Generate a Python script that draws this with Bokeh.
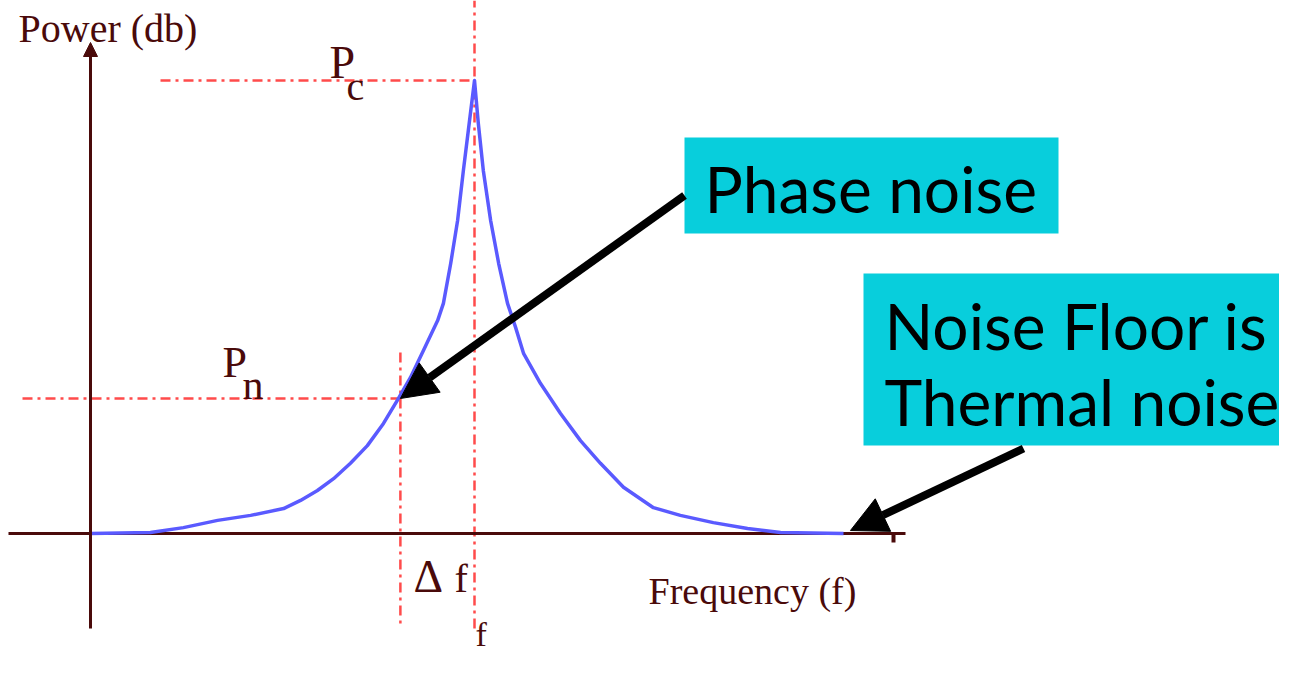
from bokeh.plotting import figure
from bokeh.models import Range1d, Label, Arrow, NormalHead, BoxAnnotation
from bokeh.embed import file_html
from bokeh.resources import INLINE

# ---- data (frequency units: carrier at 10; power units: floor 0, carrier 100) ----
freq = [0.0, 1.56, 2.42, 3.31, 4.17, 5.03, 5.47, 5.91, 6.33, 6.77, 7.21, 7.63, 7.99, 8.33, 8.67,
        9.04, 9.19, 9.38, 9.56, 9.71, 9.84, 10.0,
        10.10, 10.23, 10.42, 10.63, 10.86, 11.07, 11.28, 11.72, 12.24, 12.76, 13.28, 13.88,
        14.66, 15.36, 16.22, 17.11, 17.97, 19.61]
power = [0.0, 0.2, 1.3, 2.9, 4.0, 5.5, 7.3, 9.5, 12.1, 15.5, 19.4, 24.3, 29.4, 34.4, 40.4,
         47.0, 50.8, 59.6, 69.1, 80.1, 89.0, 100.0,
         90.5, 80.1, 69.1, 59.6, 50.8, 45.5, 39.7, 33.1, 26.5, 20.5, 15.5, 10.2,
         5.7, 4.0, 2.4, 1.1, 0.2, 0.0]
carrier_freq = 10.0
carrier_power = 100.0
offset_freq = 8.07
offset_power = 29.8
floor_end_freq = 19.79
floor_end_power = 0.66

# ---- geometry helpers (reference px -> data) ----
PX_X0, PX_PER_X = 90.0, 38.4
PX_Y0, PX_PER_Y = 533.0, 4.53
def X(px):
    return (px - PX_X0) / PX_PER_X
def Y(py):
    return (PX_Y0 - py) / PX_PER_Y

W, H = 1279, 658
p = figure(width=W, height=H, output_backend="svg", toolbar_location=None,
           x_range=Range1d(X(0), X(W)), y_range=Range1d(Y(H), Y(0)),
           min_border=0, min_border_left=0, min_border_right=0,
           min_border_top=0, min_border_bottom=0)
p.axis.visible = False
p.grid.visible = False
p.outline_line_color = None
p.background_fill_color = "white"
p.border_fill_color = "white"

AX = "#4a0a0a"
RED = "#ff4b4b"
BLUE = "#5a5aff"
CYAN = "#08cedc"

# red dash-dot guide lines
dash = "10 5 3 5"
p.segment(x0=[carrier_freq], y0=[Y(628)], x1=[carrier_freq], y1=[Y(0)],
          line_color=RED, line_width=2.5, line_dash=dash)
p.segment(x0=[X(160)], y0=[carrier_power], x1=[carrier_freq], y1=[carrier_power],
          line_color=RED, line_width=2.5, line_dash=dash)
p.segment(x0=[X(22)], y0=[offset_power], x1=[offset_freq], y1=[offset_power],
          line_color=RED, line_width=2.5, line_dash=dash)
p.segment(x0=[offset_freq], y0=[Y(352)], x1=[offset_freq], y1=[Y(628)],
          line_color=RED, line_width=2.5, line_dash=dash)

# axes
p.segment(x0=[X(8)], y0=[0], x1=[X(905)], y1=[0], line_color=AX, line_width=3)
p.segment(x0=[X(893)], y0=[0], x1=[X(893)], y1=[Y(542)], line_color=AX, line_width=4)
p.add_layout(Arrow(end=NormalHead(size=14, fill_color=AX, line_color=AX),
                   x_start=0, y_start=Y(628), x_end=0, y_end=Y(42),
                   line_color=AX, line_width=3))

# spectrum curve
p.line(freq, power, line_color=BLUE, line_width=3.5, line_join="round")

# texts (baseline given in reference px; small correction for how the label is placed)
SERIF = "Liberation Serif"
def lab(txt, px, py, size, color=AX, font=SERIF):
    p.add_layout(Label(x=X(px), y=Y(py - 0.345 * size), text=txt, text_font=font,
                       text_font_size=f"{size}px", text_color=color,
                       text_baseline="alphabetic", text_align="left"))

lab("Power (db)", 18, 42, 40)
lab("Frequency (f)", 648, 604, 38)
lab("P", 329, 78, 46)
lab("c", 346, 100, 40)
lab("P", 222, 377, 44)
lab("n", 242, 399, 42)
lab("\u0394", 413, 592, 46)
lab("f", 454, 592, 40)
lab("f", 475, 646, 34)

# callout boxes
p.add_layout(BoxAnnotation(left=X(684), right=X(1058), top=Y(137), bottom=Y(233),
                           fill_color=CYAN, fill_alpha=1.0, line_alpha=0))
p.add_layout(BoxAnnotation(left=X(863), right=X(1300), top=Y(273), bottom=Y(445),
                           fill_color=CYAN, fill_alpha=1.0, line_alpha=0))
lab("Phase noise", 704, 210, 64, color="black", font="Lato")
lab("Noise Floor is", 884, 347, 64, color="black", font="Lato")
lab("Thermal noise", 884, 423, 64, color="black", font="Lato")

# arrows
p.add_layout(Arrow(end=NormalHead(size=36, fill_color="black", line_color="black"),
                   x_start=X(684), y_start=Y(195), x_end=offset_freq, y_end=offset_power,
                   line_color="black", line_width=8))
p.add_layout(Arrow(end=NormalHead(size=36, fill_color="black", line_color="black"),
                   x_start=X(1023), y_start=Y(448), x_end=floor_end_freq, y_end=floor_end_power,
                   line_color="black", line_width=8))

open("out.html", "w").write(file_html(p, INLINE))
